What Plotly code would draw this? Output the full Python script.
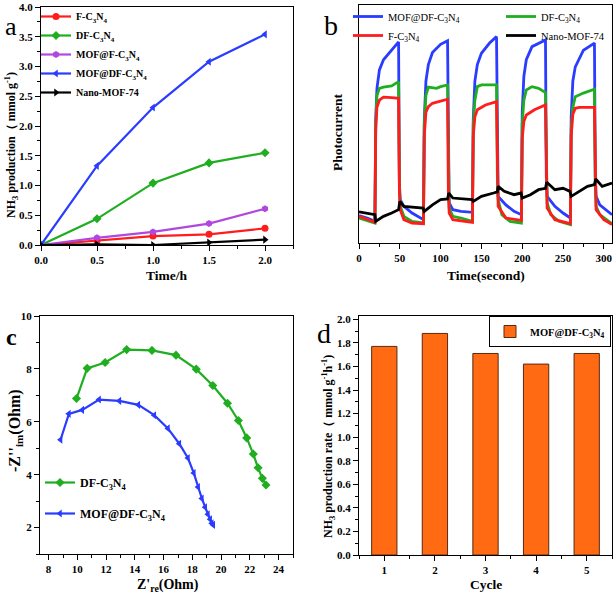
import plotly.graph_objects as go

FONT = "Liberation Serif"
W, H = 614, 598

# ---------------- Panel a data ----------------
a_time = [0, 0.5, 1.0, 1.5, 2.0]
a_F = [0, 0.07, 0.15, 0.18, 0.28]
a_DF = [0, 0.44, 1.04, 1.38, 1.55]
a_MOF_F = [0, 0.12, 0.22, 0.36, 0.61]
a_MOF_DF = [0, 1.33, 2.31, 3.08, 3.54]
a_nano = [0, 0.01, 0.0, 0.04, 0.09]

# ---------------- Panel b data (time s, photocurrent a.u.) ----------------
b_blue = [(0, 11.5), (10, 10.5), (19.5, 9.1), (20.5, 52), (22, 65), (25, 72.7), (30, 77), (40, 81), (48.5, 84.5),
          (49.5, 25), (50.5, 18.2), (55, 15.4), (65, 12.6), (79, 9.8), (80, 52), (82, 68), (85, 75), (90, 80),
          (100, 83.5), (108.5, 85), (109.5, 25), (110.5, 16.8), (115, 14), (125, 13.3), (139, 12.9), (140, 52),
          (142, 68), (145, 75), (150, 79.7), (160, 84), (168.5, 86.7), (169.5, 28), (170.5, 19.6), (180, 16),
          (190, 13.3), (199, 11.9), (200, 55), (202, 70), (205, 77), (212, 82.5), (220, 84), (228.5, 85.3),
          (229.5, 28), (230.5, 19.6), (240, 15.4), (250, 12.6), (259, 10.5), (260, 53), (262, 68), (265, 74),
          (275, 81), (288.5, 84), (289.5, 28), (290.5, 19.6), (295, 16), (305, 13.3), (310, 11.9)]
b_green = [(0, 10.5), (10, 9.5), (19.5, 8.4), (20.5, 50), (22, 62), (25, 65), (30, 65.5), (40, 66), (48.5, 67.8),
           (49.5, 25), (50.5, 15.4), (55, 11.2), (65, 9.1), (79, 8.4), (80, 50), (82, 62), (85, 65.5), (95, 65),
           (100, 65.7), (108.5, 66.4), (109.5, 25), (110.5, 14.7), (115, 11.2), (125, 10.5), (139, 9.1), (140, 50),
           (142, 60), (145, 65.7), (150, 66.4), (168.5, 66.4), (169.5, 28), (170.5, 18.2), (175, 11.9), (185, 9.1),
           (199, 8.4), (200, 50), (202, 60), (205, 64.3), (212, 65.7), (220, 65), (228.5, 63.2), (229.5, 25),
           (230.5, 16.8), (235, 11.9), (245, 9.1), (259, 7.7), (260, 48), (262, 57), (265, 61.5), (275, 63),
           (288.5, 64.6), (289.5, 25), (290.5, 15.4), (295, 11.9), (305, 9.1), (310, 8.1)]
b_red = [(0, 11.2), (10, 10), (19.5, 8.7), (20.5, 48), (22, 57), (25, 60), (30, 61.3), (40, 61.1), (48.5, 60.8),
         (49.5, 22), (50.5, 14), (55, 9.8), (65, 8.4), (79, 8.1), (80, 45), (82, 55), (85, 57.3), (90, 58.7),
         (108.5, 60.4), (109.5, 22), (110.5, 12.6), (115, 9.8), (139, 8.7), (140, 45), (142, 53), (145, 56),
         (155, 58), (168.5, 59.4), (169.5, 24), (170.5, 15.4), (180, 10.5), (199, 9.5), (200, 44), (202, 51),
         (205, 53.8), (215, 56), (228.5, 58), (229.5, 24), (230.5, 14.7), (240, 9.8), (259, 8.1), (260, 45),
         (262, 54), (265, 56.6), (270, 57), (288.5, 57), (289.5, 22), (290.5, 14), (300, 9.8), (310, 7.7)]
b_black = [(0, 13.1), (10, 12.6), (19.5, 11.9), (20.5, 9.1), (30, 11.2), (40, 12.6), (48.5, 14), (50, 17.5),
           (55, 15.4), (78.5, 14.7), (80, 13.3), (90, 16), (100, 18.2), (108.5, 18.5), (110, 21), (115, 18.9),
           (138.5, 18.2), (140, 17.5), (150, 19.6), (165, 21), (169.5, 21.5), (170.5, 23.8), (178, 21.7),
           (190, 20.3), (198.5, 21), (200, 18.9), (210, 20.3), (220, 22.4), (228.5, 23), (230, 25.5), (240, 22.4),
           (250, 23), (258.5, 21.7), (260, 19.6), (270, 21.7), (280, 23.8), (288.5, 24.5), (290, 26.9),
           (298, 23.8), (310, 25.2)]

# ---------------- Panel c data (Nyquist) ----------------
c_DF_re = [9.94, 10.68, 11.93, 13.43, 15.19, 16.86, 18.27, 19.42, 20.44, 21.2, 21.78, 22.24, 22.57, 22.87, 23.12]
c_DF_im = [6.88, 8.02, 8.24, 8.73, 8.70, 8.52, 7.99, 7.37, 6.70, 6.05, 5.39, 4.78, 4.26, 3.86, 3.61]
c_MOF_re = [8.83, 9.41, 10.34, 11.51, 12.92, 14.24, 15.35, 16.3, 17.09, 17.69, 18.1, 18.4, 18.66, 18.89, 19.08,
            19.24, 19.35, 19.45]
c_MOF_im = [5.32, 6.30, 6.45, 6.84, 6.79, 6.64, 6.25, 5.75, 5.17, 4.63, 4.06, 3.53, 3.10, 2.77, 2.50, 2.31, 2.16,
            2.10]

# ---------------- Panel d data ----------------
d_cycle = [1, 2, 3, 4, 5]
d_rate = [1.77, 1.88, 1.71, 1.62, 1.71]

BLUE = "#2a3cff"
GREEN = "#1fae1f"
RED = "#ff1c1c"
PURPLE = "#b048e0"
BLACK = "#000000"
ORANGE = "#ff6a13"

C3N4 = "C<sub>3</sub>N<sub>4</sub>"

fig = go.Figure()

# Panel a
for name, ys, col, sym in [
    ("F-" + C3N4, a_F, RED, "circle"),
    ("DF-" + C3N4, a_DF, GREEN, "diamond"),
    ("MOF@F-" + C3N4, a_MOF_F, PURPLE, "hexagon"),
    ("MOF@DF-" + C3N4, a_MOF_DF, BLUE, "triangle-left"),
    ("Nano-MOF-74", a_nano, BLACK, "triangle-right"),
]:
    fig.add_trace(go.Scatter(x=a_time, y=ys, name=name, mode="lines+markers",
                             line=dict(color=col, width=2.2), marker=dict(symbol=sym, size=7, color=col),
                             xaxis="x", yaxis="y", legend="legend"))

# Panel b
for name, pts, col, leg in [
    ("MOF@DF-" + C3N4, b_blue, BLUE, "legend2"),
    ("DF-" + C3N4, b_green, GREEN, "legend3"),
    ("F-" + C3N4, b_red, RED, "legend2"),
    ("Nano-MOF-74", b_black, BLACK, "legend3"),
]:
    fig.add_trace(go.Scatter(x=[p[0] for p in pts], y=[p[1] for p in pts], name=name, mode="lines",
                             line=dict(color=col, width=2.8), xaxis="x2", yaxis="y2", legend=leg))

# Panel c
fig.add_trace(go.Scatter(x=c_DF_re, y=c_DF_im, name="DF-" + C3N4, mode="lines+markers",
                         line=dict(color=GREEN, width=2.2), marker=dict(symbol="diamond", size=7, color=GREEN),
                         xaxis="x3", yaxis="y3", legend="legend4", legendgroup="c1"))
fig.add_trace(go.Scatter(x=c_MOF_re, y=c_MOF_im, name="MOF@DF-" + C3N4, mode="lines+markers",
                         line=dict(color=BLUE, width=2.2), marker=dict(symbol="triangle-left", size=7, color=BLUE),
                         xaxis="x3", yaxis="y3", legend="legend4", legendgroup="c2"))

# Panel d
fig.add_trace(go.Bar(x=d_cycle, y=d_rate, name="MOF@DF-" + C3N4, width=0.5,
                     marker=dict(color=ORANGE, line=dict(color="#5a2a10", width=1)),
                     xaxis="x4", yaxis="y4", legend="legend5"))

tickfont = dict(family=FONT, size=11, color="black", weight="bold")


def ax(dom, rng, **kw):
    d = dict(domain=dom, range=rng, showline=True, linecolor="black", linewidth=1, mirror=True,
             ticks="outside", ticklen=5, tickwidth=1, tickcolor="black", showgrid=False, zeroline=False,
             tickfont=tickfont, automargin=False, ticklabeloverflow="allow")
    d.update(kw)
    return d


def fx(p):
    return p / W


def fy(p):
    return 1 - p / H


fig.update_layout(
    width=W, height=H, margin=dict(l=0, r=0, t=0, b=0, autoexpand=False),
    paper_bgcolor="white", plot_bgcolor="white",
    font=dict(family=FONT, color="black"),
    xaxis=ax([fx(41), fx(293)], [0, 2.25], anchor="y", dtick=0.5, tick0=0, tickformat=".1f",
             minor=dict(ticks="outside", ticklen=3, dtick=0.25, tickcolor="black")),
    yaxis=ax([fy(245), fy(7)], [0, 4], anchor="x", dtick=0.5, tick0=0, tickformat=".1f",
             minor=dict(ticks="outside", ticklen=3, dtick=0.25, tickcolor="black")),
    xaxis2=ax([fx(359), fx(612)], [0, 310], anchor="y2", dtick=50, tick0=0,
              minor=dict(ticks="outside", ticklen=3, dtick=25, tickcolor="black")),
    yaxis2=ax([fy(243), fy(5)], [0, 100], anchor="x2", showticklabels=False, ticks=""),
    xaxis3=ax([fx(40), fx(293)], [7.4, 25], anchor="y3", dtick=2, tick0=0,
              minor=dict(ticks="outside", ticklen=3, dtick=1, tickcolor="black")),
    yaxis3=ax([fy(554), fy(316)], [1, 10], anchor="x3", dtick=2, tick0=0,
              minor=dict(ticks="outside", ticklen=3, dtick=1, tickcolor="black")),
    xaxis4=ax([fx(359), fx(612)], [0.5, 5.5], anchor="y4", tickvals=d_cycle,
              minor=dict(ticks="outside", ticklen=3, dtick=0.5, tick0=0.5, tickcolor="black")),
    yaxis4=ax([fy(555), fy(316)], [0, 2.028], anchor="x4", dtick=0.2, tick0=0, tickformat=".1f",
              minor=dict(ticks="outside", ticklen=3, dtick=0.1, tickcolor="black")),
    bargap=0.5,
    legend=dict(x=fx(36), y=fy(2), xanchor="left", yanchor="top", bgcolor="rgba(0,0,0,0)",
                font=dict(family=FONT, size=10, weight="bold"), tracegroupgap=0, itemwidth=30),
    legend2=dict(x=fx(348), y=fy(2), xanchor="left", yanchor="top", bgcolor="rgba(0,0,0,0)",
                 font=dict(family=FONT, size=10.5), tracegroupgap=0, itemwidth=30),
    legend3=dict(x=fx(501), y=fy(2), xanchor="left", yanchor="top", bgcolor="rgba(0,0,0,0)",
                 font=dict(family=FONT, size=10.5), tracegroupgap=0, itemwidth=30),
    legend4=dict(x=fx(40), y=fy(468), xanchor="left", yanchor="top", bgcolor="rgba(0,0,0,0)",
                 font=dict(family=FONT, size=12, weight="bold"), tracegroupgap=12, itemwidth=30),
    legend5=dict(x=fx(489), y=fy(316), xanchor="left", yanchor="top", bgcolor="white",
                 bordercolor="black", borderwidth=1,
                 font=dict(family=FONT, size=10.5, weight="bold"), itemwidth=30),
)

ann = []


def text(x, y, s, size, bold=True, angle=0):
    ann.append(dict(x=fx(x), y=fy(y), xref="paper", yref="paper", text=s, showarrow=False,
                    xanchor="center", yanchor="middle", textangle=angle,
                    font=dict(family=FONT, size=size, color="black", weight="bold" if bold else "normal")))


# axis titles
text(167, 275, "Time/h", 13.5)
text(12, 145, "NH<sub>3</sub> production（ mmol g<sup>-1</sup>)", 12, angle=-90)
text(486, 275, "Time(second)", 13.5)
text(338, 133, "Photocurrent", 13.5, angle=-90)
text(168, 585, "Z'<sub>re</sub>(Ohm)", 14)
text(15, 431, "-Z''<sub>im</sub>(Ohm)", 16, angle=-90)
text(486, 584, "Cycle", 13.5)
text(329, 447, "NH<sub>3</sub> production rate（ mmol g<sup>-1</sup>h<sup>-1</sup>)", 12, angle=-90)
# panel letters
text(11, 27, "a", 26, bold=False)
text(331, 26, "b", 28, bold=False)
text(12, 337, "c", 24)
text(324, 333, "d", 28, bold=False)

fig.update_layout(annotations=ann)

fig.write_html("out.html", config={"displayModeBar": False},
               post_script="document.body.style.margin='0px';")
